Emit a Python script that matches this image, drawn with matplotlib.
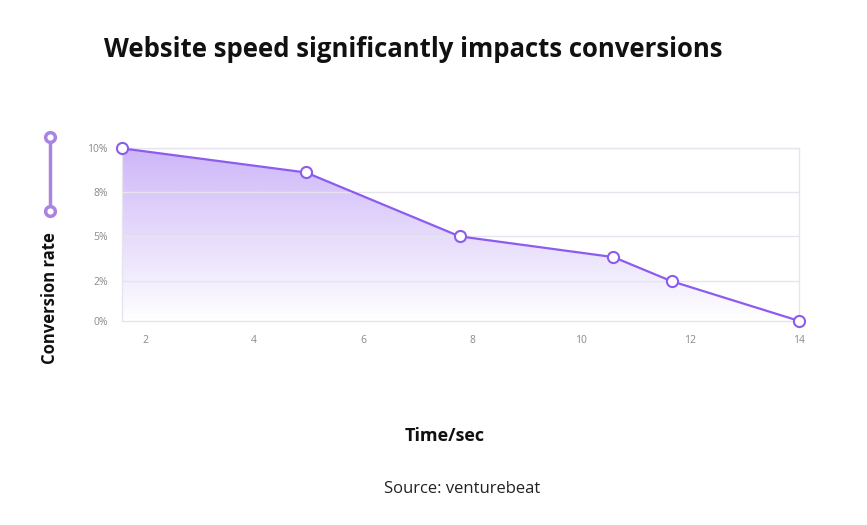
import numpy as np
import matplotlib.pyplot as plt
from matplotlib.patches import Polygon

# data
time_sec = [1.57, 4.95, 7.77, 10.59, 11.66, 14.0]
conv_rate = [10.0, 8.6, 4.9, 3.7, 2.3, 0.0]

x_ticks = [2, 4, 6, 8, 10, 12, 14]
y_ticks = [0, 2.3, 4.9, 7.45, 10]
y_labels = ["0%", "2%", "5%", "8%", "10%"]

line_col = "#8c5cf0"
grid_col = "#e6e4ec"

plt.rcParams['font.family'] = ['Open Sans', 'DejaVu Sans']

fig = plt.figure(figsize=(8.67, 5.25), dpi=100)
ax = fig.add_axes([0.1404, 0.3886, 0.7815, 0.3289])

# gradient area under the line
verts = [(time_sec[0], 0)] + list(zip(time_sec, conv_rate)) + [(time_sec[-1], 0)]
poly = Polygon(verts, closed=True, facecolor="none", edgecolor="none")
ax.add_patch(poly)
grad = np.linspace(0.52, 0.0, 256).reshape(-1, 1)
rgba = np.zeros((256, 1, 4))
rgba[..., 0] = 0.62
rgba[..., 1] = 0.45
rgba[..., 2] = 0.95
rgba[..., 3] = grad
img = ax.imshow(rgba, extent=[time_sec[0], time_sec[-1], 0, 10], aspect="auto",
                origin="upper", zorder=1)
img.set_clip_path(poly)

for yv in y_ticks[1:]:
    ax.axhline(yv, color=grid_col, lw=1, zorder=2)

ax.plot(time_sec, conv_rate, color=line_col, lw=1.6, zorder=3,
        marker="o", ms=8, mfc="white", mec=line_col, mew=1.5, clip_on=False)

ax.set_xlim(time_sec[0], 14)
ax.set_ylim(0, 10)
ax.set_xticks(x_ticks)
ax.set_yticks(y_ticks)
ax.set_yticklabels(y_labels)
ax.tick_params(length=0, labelsize=7.5, colors="#8a8a8a", pad=10)
for s in ax.spines.values():
    s.set_color(grid_col)
    s.set_linewidth(1)

fig.text(0.477, 0.905, "Website speed significantly impacts conversions",
         ha="center", va="center", fontsize=18.5, fontweight="bold", color="#111111")
fig.text(0.513, 0.169, "Time/sec", ha="center", va="center",
         fontsize=13, fontweight="bold", color="#111111")
fig.text(0.533, 0.068, "Source: venturebeat", ha="center", va="center",
         fontsize=12, color="#222222")
fig.text(0.058, 0.432, "Conversion rate", ha="center", va="center", rotation=90,
         fontsize=12, fontweight="bold", color="#111111")

# little vertical bar decoration on the left
deco = fig.add_axes([0, 0, 1, 1], facecolor="none")
deco.set_xlim(0, 867)
deco.set_ylim(525, 0)
deco.axis("off")
deco.plot([50, 50], [137, 211], color="#a985e0", lw=2.5,
          marker="o", ms=7, mfc="white", mec="#a985e0", mew=2.5)

fig.savefig("out.png", dpi=100)
